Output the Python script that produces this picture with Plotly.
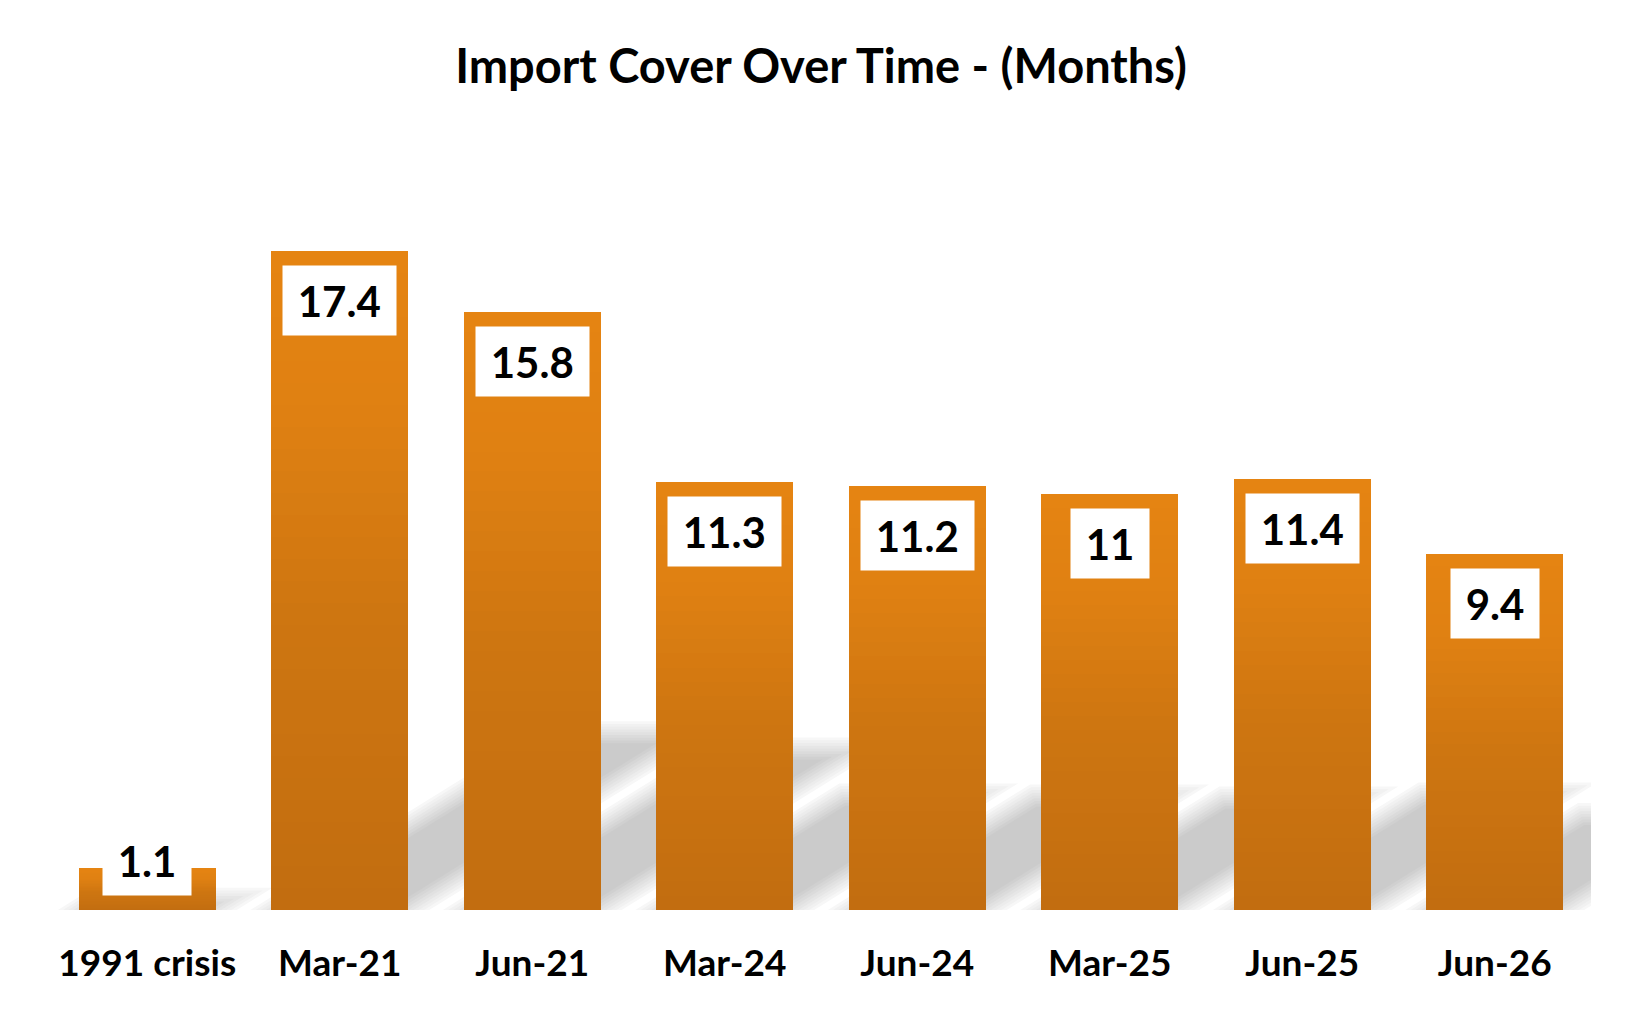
import math
import plotly.graph_objects as go

categories = ["1991 crisis", "Mar-21", "Jun-21", "Mar-24", "Jun-24", "Mar-25", "Jun-25", "Jun-26"]
values = [1.1, 17.4, 15.8, 11.3, 11.2, 11.0, 11.4, 9.4]
labels = ["1.1", "17.4", "15.8", "11.3", "11.2", "11", "11.4", "9.4"]

W, H = 1640, 1016
M_L, M_R, M_T, M_B = 43, 57, 145, 114
Y_MAX = 20
BARGAP = 0.288
FONT = "Lato, Carlito, 'Open Sans', sans-serif"

# vertical colour gradient (bottom -> top), built as stacked slices of each bar
N = 30
stops = [(0.0, (0xC2, 0x6D, 0x10)), (0.45, (0xCE, 0x76, 0x11)),
         (0.75, (0xDF, 0x80, 0x12)), (1.0, (0xE5, 0x84, 0x12))]


def grad(t):
    for (t0, c0), (t1, c1) in zip(stops[:-1], stops[1:]):
        if t0 <= t <= t1:
            f = (t - t0) / (t1 - t0) if t1 > t0 else 0
            return "rgb(%d,%d,%d)" % tuple(round(a + (b - a) * f) for a, b in zip(c0, c1))
    return "rgb(%d,%d,%d)" % stops[-1][1]


fig = go.Figure()
for k in range(N):
    fig.add_trace(go.Bar(
        x=categories,
        y=[v / N for v in values],
        marker=dict(color=grad((k + 0.5) / N), line=dict(width=0)),
        showlegend=False,
        hoverinfo="skip" if k < N - 1 else "x+text",
        hovertext=labels,
    ))

plot_w = W - M_L - M_R
plot_h = H - M_T - M_B
px_x = plot_w / len(categories)      # pixels per category
px_y = plot_h / Y_MAX                # pixels per unit

# soft perspective shadow behind each bar (parallelogram leaning up-right)
SLOPE = 0.62         # dy/dx of the slanted edges
SH_FRAC = 0.27       # shadow height as fraction of bar height
half = (1 - BARGAP) / 2
K = 9
sin_t = math.sin(math.atan(SLOPE))
for k in range(K):
    d = 11 - 22 * k / (K - 1)            # inflation in px (outer -> inner)
    g = round(252 - (252 - 203) * (k + 1) / K)
    col = "rgb(%d,%d,%d)" % (g, g, g)
    for i, v in enumerate(values):
        hs = SH_FRAC * v * px_y
        if hs <= 0:
            continue
        dx = (d / sin_t) / px_x
        dy = d / px_y
        yb, yt = -dy, SH_FRAC * v + dy
        xl, xr = i - half - dx, i + half + dx
        sh_b = (yb * px_y / SLOPE) / px_x
        sh_t = (yt * px_y / SLOPE) / px_x
        path = "M %.4f,%.4f L %.4f,%.4f L %.4f,%.4f L %.4f,%.4f Z" % (
            xl + sh_b, yb, xr + sh_b, yb, xr + sh_t, yt, xl + sh_t, yt)
        fig.add_shape(type="path", path=path, xref="x", yref="y", layer="below",
                      fillcolor=col, line=dict(width=0))

BOX_H = 69
GAP = 14
for c, v, lab in zip(categories, values, labels):
    if v * px_y >= BOX_H + 2 * GAP:
        y, ya, ys = v, "top", -GAP
    else:
        y, ya, ys = 0, "bottom", GAP
    fig.add_annotation(
        x=c, y=y, xref="x", yref="y", yanchor=ya, yshift=ys,
        text="\u2009" + lab + "\u2009", showarrow=False,
        font=dict(family=FONT, size=42, color="black", weight="bold"),
        bgcolor="white", borderpad=9.5,
    )

fig.update_layout(
    width=W, height=H,
    margin=dict(l=M_L, r=M_R, t=M_T, b=M_B),
    barmode="stack", bargap=BARGAP,
    paper_bgcolor="white", plot_bgcolor="white",
    title=dict(text="Import Cover Over Time - (Months)", x=(M_L + plot_w / 2) / W,
               xanchor="center", y=1 - 59 / H, yanchor="middle", yref="container",
               font=dict(family=FONT, size=47, color="black", weight="bold")),
    xaxis=dict(showgrid=False, showline=False, zeroline=False, ticks="",
               range=[-0.5, len(categories) - 0.5],
               ticklabelstandoff=28,
               tickfont=dict(family=FONT, size=37, color="black", weight="bold")),
    yaxis=dict(range=[0, Y_MAX], visible=False, showgrid=False, zeroline=False),
)

fig.write_html("out.html")
